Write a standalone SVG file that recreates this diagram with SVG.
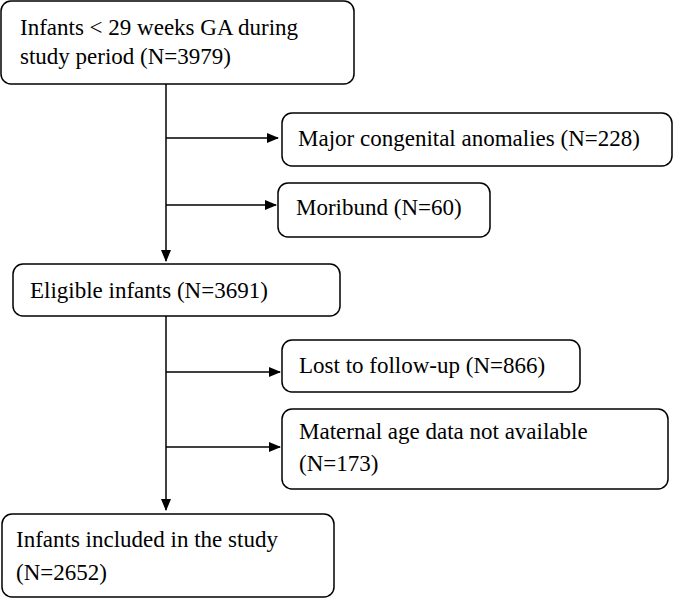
<svg xmlns="http://www.w3.org/2000/svg" width="685" height="599" viewBox="0 0 685 599">
<style>
.b{fill:#fff;stroke:#000;stroke-width:1.5}
text{font-family:"Liberation Serif",serif;font-size:23px;fill:#000}
.c{stroke:#000;stroke-width:1.5;fill:none}
</style>
<defs><marker id="a" markerWidth="12" markerHeight="10" refX="11" refY="5" orient="auto" markerUnits="userSpaceOnUse"><path d="M0,0 L12,5 L0,10 z" fill="#000"/></marker></defs>
<rect width="685" height="599" fill="#fff"/>
<g id="connectors">
<path class="c" d="M166,84 V261" marker-end="url(#a)"/>
<path class="c" d="M166,138 H278" marker-end="url(#a)"/>
<path class="c" d="M166,205 H276" marker-end="url(#a)"/>
<path class="c" d="M166,316 V510" marker-end="url(#a)"/>
<path class="c" d="M166,372 H280" marker-end="url(#a)"/>
<path class="c" d="M166,447 H280" marker-end="url(#a)"/>
</g>
<g id="n1"><rect class="b" x="1" y="1" width="353" height="83" rx="10"/><text x="20" y="35">Infants &lt; 29 weeks GA during</text><text x="20" y="64">study period (N=3979)</text></g>
<g id="n2"><rect class="b" x="282" y="113" width="390" height="53" rx="10"/><text x="298" y="146">Major congenital anomalies (N=228)</text></g>
<g id="n3"><rect class="b" x="278" y="183" width="212" height="54" rx="10"/><text x="296" y="215">Moribund (N=60)</text></g>
<g id="n4"><rect class="b" x="13" y="264" width="327" height="52" rx="10"/><text x="30" y="298">Eligible infants (N=3691)</text></g>
<g id="n5"><rect class="b" x="282" y="340" width="298" height="52" rx="10"/><text x="299" y="373">Lost to follow-up (N=866)</text></g>
<g id="n6"><rect class="b" x="282" y="409" width="386" height="80" rx="10"/><text x="299" y="439">Maternal age data not available</text><text x="299" y="471">(N=173)</text></g>
<g id="n7"><rect class="b" x="2" y="514" width="332" height="83" rx="10"/><text x="16" y="547">Infants included in the study</text><text x="16" y="580">(N=2652)</text></g>
</svg>
